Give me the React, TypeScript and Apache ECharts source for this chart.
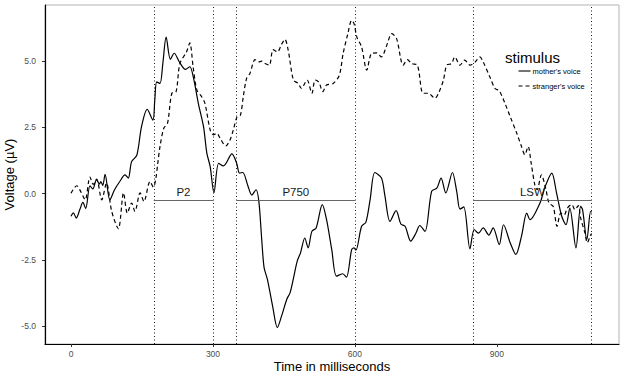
import React, { useEffect, useRef } from "react";
import * as echarts from "echarts";

// Mother's voice (solid)
const motherTime = [0, 5, 11, 19, 25, 31, 40, 46, 54, 60, 63, 67, 72, 82, 92, 103, 114, 121, 128, 139, 149, 161, 173, 177, 181, 188, 194, 201, 210, 218, 229, 242, 251, 259, 269, 280, 287, 294, 302, 312, 322, 340, 350, 356, 363, 373, 382, 391, 397, 403, 408, 415, 426, 436, 445, 456, 463, 471, 478, 485, 494, 501, 509, 518, 531, 540, 551, 561, 574, 582, 593, 598, 602, 614, 623, 632, 642, 656, 663, 674, 687, 697, 706, 718, 729, 737, 748, 762, 773, 782, 792, 806, 815, 822, 830, 843, 852, 861, 871, 883, 892, 905, 914, 928, 940, 952, 963, 970, 991, 1002, 1016, 1026, 1037, 1046, 1054, 1067, 1077, 1081, 1090, 1098, 1100];
const motherVoltage = [-0.85, -0.72, -0.92, -0.58, -0.33, -0.56, 0.3, 0.18, 0.53, 0.36, 0.46, 0.31, 0.73, -0.23, 0.15, 0.46, 0.71, 0.59, 1.21, 1.45, 2.53, 3.18, 2.78, 3.53, 4.22, 4.16, 4.91, 5.91, 5.07, 5.3, 4.97, 4.69, 4.79, 4.35, 3.41, 2.53, 1.53, 1.03, 0.04, 1.15, 1.05, 1.5, 1.15, 0.78, 0.8, 0.34, -0.05, 0.15, -0.3, -1.73, -2.79, -3.23, -4.24, -5.05, -4.61, -3.98, -3.73, -3.11, -2.54, -2.23, -1.67, -2.04, -1.42, -1.29, -0.41, -0.98, -2.11, -3.11, -3.02, -3.15, -2.11, -2.04, -2.13, -1.23, -1.08, -0.23, 0.8, 0.59, -0.04, -1.04, -0.64, -1.14, -1.23, -1.79, -1.48, -1.2, -1.42, 0.09, 0.21, 0.59, 0.03, 0.8, 0.09, -0.58, -0.5, -2.08, -1.35, -1.49, -1.29, -1.56, -1.29, -1.92, -1.17, -1.85, -2.29, -1.6, -0.73, -0.98, -0.35, 0.27, 0.78, 0.03, -0.85, -1.17, -0.54, -2.04, -0.48, -0.6, -1.73, -0.67, -0.7];

// Stranger's voice (dashed)
const strangerTime = [0, 12, 20, 30, 40, 47, 54, 65, 75, 86, 100, 111, 119, 128, 135, 146, 154, 167, 174, 179, 183, 188, 196, 204, 213, 222, 230, 244, 251, 258, 266, 276, 283, 294, 301, 308, 315, 327, 336, 343, 351, 358, 364, 371, 378, 389, 396, 403, 410, 419, 427, 436, 445, 452, 459, 470, 480, 487, 492, 499, 509, 516, 524, 532, 540, 554, 567, 575, 585, 593, 598, 604, 614, 625, 635, 646, 656, 666, 678, 688, 702, 711, 720, 732, 744, 755, 769, 778, 787, 794, 804, 811, 822, 832, 843, 854, 864, 871, 885, 896, 905, 917, 928, 942, 952, 959, 966, 972, 980, 985, 994, 1003, 1010, 1019, 1027, 1035, 1042, 1049, 1058, 1065, 1072, 1077, 1086, 1091, 1097, 1100];
const strangerVoltage = [0.02, 0.3, 0.1, -0.23, 0.63, 0.35, 0.55, -0.23, 0.4, -0.67, -1.32, 0.03, -0.73, -0.35, -0.67, 0.03, -0.29, 0.46, 0.25, 0.55, 1.1, 1.78, 2.47, 2.66, 3.79, 3.85, 4.91, 5.35, 5.69, 4.79, 3.91, 3.66, 3.41, 2.41, 2.22, 2.28, 2.09, 1.8, 2.03, 2.41, 2.91, 2.97, 3.66, 4.35, 4.54, 5.06, 4.97, 5.0, 4.91, 4.85, 5.44, 5.35, 5.64, 5.82, 5.41, 4.29, 4.16, 3.97, 4.1, 4.29, 3.79, 4.29, 4.2, 3.85, 4.1, 4.16, 4.47, 5.29, 6.04, 6.54, 6.42, 5.91, 5.54, 4.66, 5.29, 5.31, 5.16, 5.54, 6.04, 5.85, 4.85, 5.06, 4.91, 4.85, 3.79, 3.79, 3.6, 3.85, 4.29, 4.85, 4.91, 5.16, 4.85, 5.04, 4.85, 4.97, 5.16, 4.97, 4.41, 3.97, 3.88, 3.41, 2.91, 2.28, 1.78, 1.47, 1.78, 1.2, 0.34, 0.15, 0.71, 0.21, -0.35, -0.48, -1.23, -0.73, -0.8, -0.54, -0.41, -0.6, -0.45, -0.92, -1.48, -1.85, -1.6, -1.5];

// ERP windows
const windowLabels = ["P2", "P750", "LSW"];
const windowStarts = [175, 350, 850];
const windowEnds = [300, 600, 1100];
const windowLevel = -0.25;

// Axis ticks
const xTicks = [0, 300, 600, 900];
const yTicks = [-5, -2.5, 0, 2.5, 5];

const seriesNames = ["mother's voice", "stranger's voice"];
const legendTitle = "stimulus";

const FONT = "'Liberation Sans', Arial, Helvetica, sans-serif";
const DASH = [4, 3];

export default function App() {
  const ref = useRef<HTMLDivElement>(null);
  useEffect(() => {
    document.body.style.margin = "0";
    const chart = echarts.init(ref.current as HTMLDivElement, null, { renderer: "svg" });

    const verticals: number[] = [];
    windowStarts.forEach((s, i) => {
      verticals.push(s, windowEnds[i]);
    });

    const markData: any[] = [
      ...verticals.map((v) => ({
        xAxis: v,
        lineStyle: { type: [1, 2.5], color: "#000", width: 0.9 },
        label: { show: false },
      })),
      ...windowLabels.map((name, i) => [
        {
          coord: [windowStarts[i], windowLevel],
          lineStyle: { type: "solid", color: "#555", width: 0.9 },
          label: {
            show: true,
            position: "insideMiddleTop",
            formatter: name,
            fontSize: 11.5,
            fontFamily: FONT,
            color: "#1a1a1a",
            distance: 2,
          },
        },
        { coord: [windowEnds[i], windowLevel] },
      ]),
    ];

    const legendRows = seriesNames.map((name, i) => ({
      type: "group",
      left: 516,
      top: 67 + i * 15,
      children: [
        {
          type: "line",
          shape: { x1: 0, y1: 5, x2: 12, y2: 5 },
          style: { stroke: "#000", lineWidth: 1.1, lineDash: i === 0 ? null : [4, 3] },
        },
        {
          type: "text",
          x: 14,
          y: 5,
          style: {
            text: name,
            fontSize: 7.5,
            fontFamily: FONT,
            fill: "#000",
            textVerticalAlign: "middle",
            verticalAlign: "middle",
          },
        },
      ],
    }));

    const option: any = {
      animation: false,
      backgroundColor: "#fff",
      textStyle: { fontFamily: FONT },
      graphic: [
        {
          type: "text",
          left: 505,
          top: 50,
          style: { text: legendTitle, fontSize: 15, fontFamily: FONT, fill: "#000" },
        },
        ...legendRows,
      ],
      grid: {
        left: 45,
        right: 4,
        top: 5,
        bottom: 30,
        show: true,
        borderColor: "#b3b3b3",
        borderWidth: 1,
        backgroundColor: "transparent",
        containLabel: false,
        outerBoundsMode: "none",
      },
      xAxis: {
        type: "value",
        min: -55,
        max: 1158,
        splitLine: { show: false },
        axisLine: { show: true, onZero: false, lineStyle: { color: "#000", width: 1.2 } },
        axisTick: { show: true, customValues: xTicks, length: 3, lineStyle: { color: "#333" } },
        axisLabel: {
          customValues: xTicks,
          color: "#4d4d4d",
          fontSize: 8.5,
          margin: 5,
          fontFamily: FONT,
        },
        name: "Time in milliseconds",
        nameLocation: "middle",
        nameGap: 16,
        nameMoveOverlap: false,
        nameTextStyle: { fontSize: 13, color: "#000", fontFamily: FONT },
      },
      yAxis: {
        type: "value",
        min: -5.67,
        max: 7.12,
        splitLine: { show: false },
        axisLine: { show: true, onZero: false, lineStyle: { color: "#000", width: 1.2 } },
        axisTick: { show: true, customValues: yTicks, length: 3, lineStyle: { color: "#333" } },
        axisLabel: {
          customValues: yTicks,
          color: "#4d4d4d",
          fontSize: 8.5,
          margin: 9,
          fontFamily: FONT,
          formatter: (v: number) => v.toFixed(1),
        },
        name: "Voltage (µV)",
        nameLocation: "middle",
        nameGap: 29,
        nameMoveOverlap: false,
        nameTextStyle: { fontSize: 13, color: "#000", fontFamily: FONT },
      },
      series: [
        {
          name: seriesNames[0],
          type: "line",
          data: motherTime.map((t, i) => [t, motherVoltage[i]]),
          symbol: "none",
          showSymbol: false,
          smooth: 0.3,
          lineStyle: { color: "#000", width: 1.2, type: "solid" },
          itemStyle: { color: "#000" },
          markLine: {
            symbol: "none",
            silent: true,
            animation: false,
            data: markData,
          },
          z: 3,
        },
        {
          name: seriesNames[1],
          type: "line",
          data: strangerTime.map((t, i) => [t, strangerVoltage[i]]),
          symbol: "none",
          showSymbol: false,
          smooth: 0.3,
          lineStyle: { color: "#000", width: 1.2, type: DASH },
          itemStyle: { color: "#000" },
          z: 3,
        },
      ],
    };

    chart.setOption(option);
    return () => chart.dispose();
  }, []);
  return <div ref={ref} style={{ width: 623, height: 374 }} />;
}
